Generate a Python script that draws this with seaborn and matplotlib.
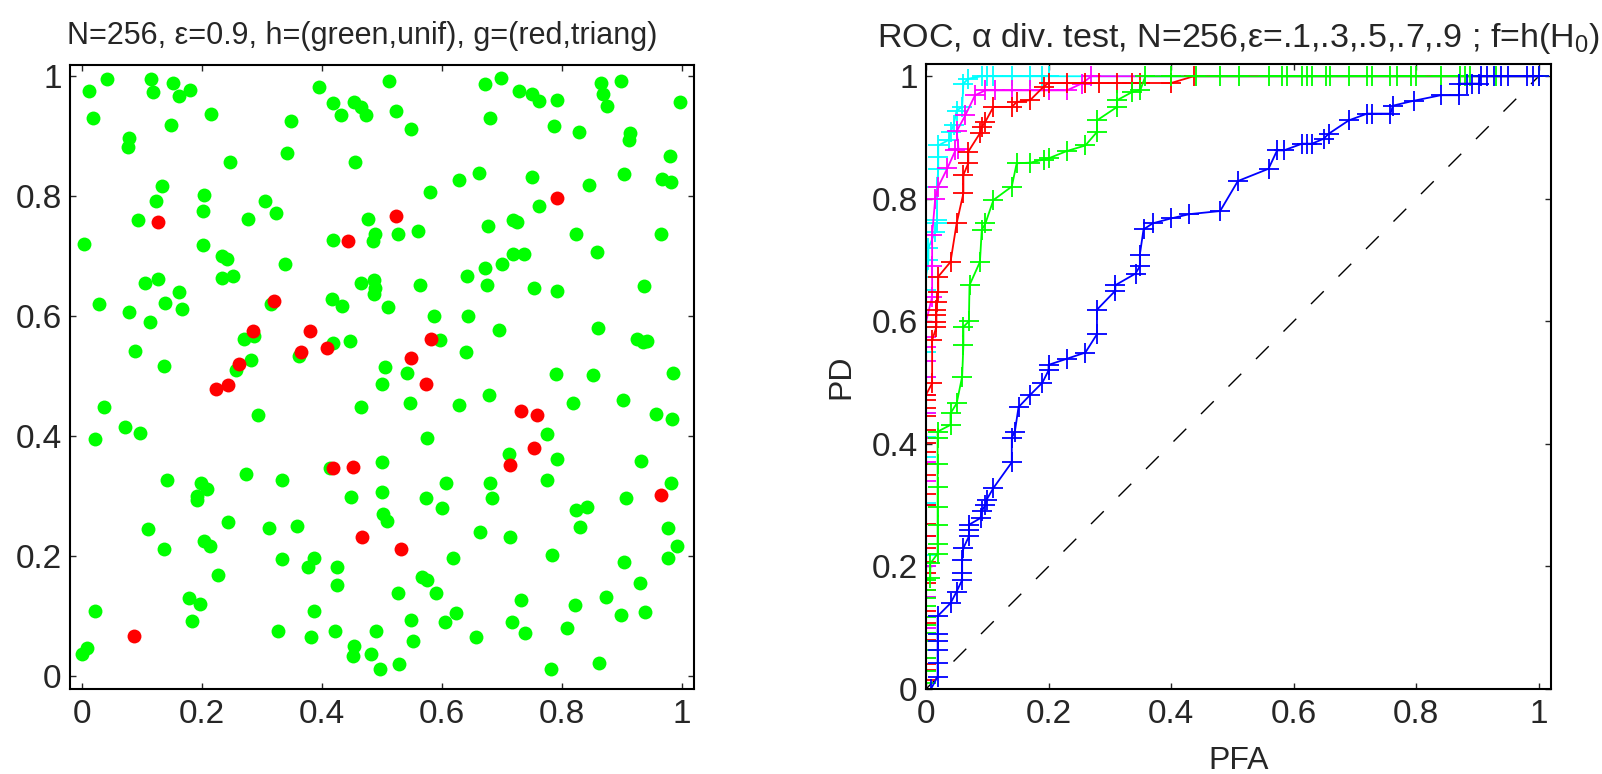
import numpy as np
import pandas as pd
import matplotlib
matplotlib.use("Agg")
import matplotlib.pyplot as plt
import seaborn as sns

# Style: plain white axes, inward ticks on all sides (MATLAB look)
sns.set_theme(style="ticks", rc={
    "xtick.direction": "in", "ytick.direction": "in",
    "xtick.top": True, "ytick.right": True,
    "axes.linewidth": 1.5, "xtick.major.width": 1.0, "ytick.major.width": 1.0,
    "xtick.major.size": 4, "ytick.major.size": 4,
    "axes.edgecolor": "black",
})
plt.rcParams['font.family'] = ['Liberation Sans', 'DejaVu Sans']
plt.rcParams['mathtext.fontset'] = 'custom'
plt.rcParams['mathtext.rm'] = 'Liberation Sans'
plt.rcParams['mathtext.it'] = 'Liberation Sans:italic'

TICK_FS = 24
LABEL_FS = 23

# ---- left panel: sample points (green = unif, red = triang) ----
green_x = [0.012, 0.041, 0.115, 0.119, 0.151, 0.162, 0.180, 0.019, 0.215, 0.149, 0.078, 0.076,
           0.246, 0.341, 0.349, 0.395, 0.419, 0.432, 0.453, 0.465, 0.473, 0.455, 0.133, 0.123,
           0.203, 0.202, 0.094, 0.004, 0.201, 0.305, 0.324, 0.276, 0.419, 0.476, 0.489, 0.485,
           0.233, 0.241, 0.339, 0.233, 0.252, 0.105, 0.126, 0.162, 0.138, 0.028, 0.078, 0.167,
           0.113, 0.465, 0.486, 0.489, 0.486, 0.416, 0.433, 0.315, 0.270, 0.286, 0.281, 0.257,
           0.362, 0.418, 0.447, 0.089, 0.137, 0.505,
           0.512, 0.671, 0.698, 0.728, 0.750, 0.761, 0.792, 0.865, 0.898, 0.869, 0.875, 0.996,
           0.524, 0.549, 0.680, 0.787, 0.829, 0.914, 0.911, 0.980, 0.967, 0.982, 0.904, 0.845,
           0.750, 0.662, 0.629, 0.580, 0.761, 0.718, 0.725, 0.676, 0.823, 0.965, 0.526, 0.560,
           0.858, 0.718, 0.736, 0.700, 0.671, 0.641, 0.675, 0.754, 0.791, 0.936, 0.563, 0.510,
           0.586, 0.643, 0.695, 0.860, 0.925, 0.935, 0.942, 0.597, 0.640, 0.541, 0.790, 0.852,
           0.985,
           0.036, 0.293, 0.071, 0.097, 0.021, 0.465, 0.500, 0.500, 0.500, 0.502, 0.413, 0.448,
           0.274, 0.334, 0.142, 0.199, 0.208, 0.191, 0.192, 0.243, 0.311, 0.358, 0.110, 0.136,
           0.203, 0.213, 0.227, 0.333, 0.386, 0.377, 0.425, 0.425, 0.179, 0.196, 0.184, 0.021,
           0.009, 0.000, 0.386, 0.327, 0.382, 0.421, 0.453, 0.451, 0.482, 0.490, 0.497,
           0.546, 0.628, 0.678, 0.819, 0.901, 0.956, 0.983, 0.775, 0.791, 0.711, 0.575, 0.775,
           0.931, 0.981, 0.906, 0.607, 0.680, 0.684, 0.573, 0.600, 0.508, 0.823, 0.841, 0.830,
           0.977, 0.992, 0.977, 0.663, 0.713, 0.618, 0.784, 0.903, 0.930, 0.566, 0.575, 0.527,
           0.590, 0.732, 0.821, 0.873, 0.899, 0.938, 0.549, 0.605, 0.623, 0.552, 0.656, 0.717,
           0.739, 0.809, 0.529, 0.782, 0.861]
green_y = [0.975, 0.994, 0.995, 0.973, 0.988, 0.967, 0.977, 0.930, 0.936, 0.918, 0.897, 0.882,
           0.856, 0.871, 0.925, 0.982, 0.954, 0.935, 0.956, 0.948, 0.934, 0.856, 0.816, 0.791,
           0.802, 0.774, 0.759, 0.719, 0.718, 0.791, 0.772, 0.761, 0.726, 0.761, 0.736, 0.725,
           0.700, 0.695, 0.686, 0.663, 0.666, 0.654, 0.662, 0.639, 0.622, 0.620, 0.607, 0.611,
           0.589, 0.654, 0.659, 0.646, 0.636, 0.628, 0.616, 0.619, 0.561, 0.566, 0.526, 0.510,
           0.533, 0.554, 0.558, 0.542, 0.516, 0.515,
           0.991, 0.986, 0.997, 0.975, 0.969, 0.958, 0.959, 0.988, 0.991, 0.969, 0.949, 0.956,
           0.941, 0.911, 0.929, 0.917, 0.907, 0.904, 0.893, 0.866, 0.828, 0.823, 0.837, 0.818,
           0.831, 0.838, 0.827, 0.806, 0.783, 0.760, 0.756, 0.749, 0.736, 0.736, 0.737, 0.742,
           0.707, 0.703, 0.703, 0.687, 0.679, 0.666, 0.652, 0.647, 0.641, 0.650, 0.652, 0.614,
           0.599, 0.599, 0.576, 0.579, 0.562, 0.556, 0.558, 0.560, 0.539, 0.504, 0.503, 0.501,
           0.504,
           0.448, 0.434, 0.415, 0.404, 0.394, 0.448, 0.486, 0.357, 0.306, 0.269, 0.346, 0.298,
           0.337, 0.327, 0.326, 0.322, 0.311, 0.299, 0.293, 0.256, 0.246, 0.250, 0.244, 0.212,
           0.224, 0.217, 0.168, 0.195, 0.197, 0.181, 0.181, 0.152, 0.129, 0.119, 0.091, 0.108,
           0.046, 0.036, 0.108, 0.074, 0.064, 0.075, 0.050, 0.033, 0.037, 0.075, 0.011,
           0.455, 0.451, 0.468, 0.455, 0.459, 0.437, 0.428, 0.403, 0.362, 0.370, 0.397, 0.326,
           0.358, 0.322, 0.296, 0.322, 0.321, 0.297, 0.297, 0.279, 0.258, 0.276, 0.282, 0.248,
           0.246, 0.216, 0.197, 0.239, 0.232, 0.196, 0.201, 0.189, 0.155, 0.165, 0.159, 0.138,
           0.138, 0.126, 0.118, 0.131, 0.102, 0.107, 0.093, 0.090, 0.104, 0.058, 0.065, 0.089,
           0.071, 0.079, 0.020, 0.011, 0.022]

red_x = [0.127, 0.443, 0.320, 0.285, 0.262, 0.380, 0.365, 0.408, 0.792, 0.524, 0.582, 0.549,
         0.224, 0.243, 0.418, 0.451, 0.467, 0.086, 0.574, 0.731, 0.759, 0.753, 0.713, 0.965, 0.532]
red_y = [0.756, 0.725, 0.625, 0.574, 0.519, 0.574, 0.540, 0.546, 0.796, 0.766, 0.562, 0.529,
         0.478, 0.484, 0.346, 0.348, 0.231, 0.066, 0.486, 0.442, 0.435, 0.380, 0.352, 0.302, 0.212]

# ---- right panel: ROC curves, one per epsilon ----
pfa_eps1 = [0, 0.008, 0.019, 0.019, 0.019, 0.019, 0.019, 0.019, 0.040, 0.050, 0.059, 0.059, 0.059,
            0.061, 0.070, 0.070, 0.070, 0.089, 0.091, 0.097, 0.099, 0.110, 0.140, 0.140, 0.145,
            0.151, 0.170, 0.190, 0.200, 0.200, 0.230, 0.260, 0.279, 0.279, 0.309, 0.309, 0.342,
            0.349, 0.349, 0.355, 0.370, 0.400, 0.430, 0.480, 0.509, 0.559, 0.573, 0.584, 0.614,
            0.622, 0.630, 0.649, 0.657, 0.690, 0.720, 0.728, 0.758, 0.762, 0.796, 0.840, 0.870,
            0.870, 0.883, 0.891, 0.902, 0.905, 0.916, 0.927, 0.938, 0.950, 0.981, 0.991, 1.0]
pd_eps1 = [0, 0, 0.020, 0.042, 0.064, 0.078, 0.089, 0.119, 0.140, 0.159, 0.178, 0.189, 0.211,
           0.230, 0.249, 0.260, 0.268, 0.279, 0.290, 0.301, 0.309, 0.328, 0.370, 0.410, 0.420,
           0.460, 0.480, 0.500, 0.520, 0.529, 0.539, 0.549, 0.579, 0.619, 0.650, 0.659, 0.678,
           0.690, 0.709, 0.750, 0.760, 0.768, 0.775, 0.780, 0.829, 0.849, 0.879, 0.879, 0.890,
           0.890, 0.890, 0.898, 0.906, 0.928, 0.939, 0.939, 0.939, 0.952, 0.960, 0.969, 0.969,
           0.988, 0.988, 0.988, 0.988, 1.0, 1.0, 1.0, 1.0, 1.0, 1.0, 1.0, 1.0]

pfa_eps3 = [0, 0, 0, 0, 0, 0, 0, 0, 0, 0, 0, 0, 0, 0.007, 0.007, 0.019, 0.019, 0.019, 0.019,
            0.019, 0.019, 0.019, 0.019, 0.040, 0.040, 0.050, 0.059, 0.061, 0.061, 0.070, 0.071,
            0.088, 0.091, 0.097, 0.110, 0.140, 0.148, 0.170, 0.192, 0.200, 0.230, 0.260, 0.279,
            0.279, 0.312, 0.312, 0.336, 0.350, 0.358, 0.400, 0.440, 0.480, 0.510, 0.559, 0.581,
            0.589, 0.614, 0.622, 0.630, 0.652, 0.660, 0.690, 0.720, 0.728, 0.758, 0.769, 0.791,
            0.799, 0.841, 0.872, 0.880, 0.888, 0.930, 1.0]
pd_eps3 = [0, 0.010, 0.029, 0.050, 0.064, 0.078, 0.091, 0.105, 0.118, 0.135, 0.148, 0.162, 0.178,
           0.181, 0.205, 0.221, 0.237, 0.268, 0.297, 0.330, 0.368, 0.409, 0.420, 0.431, 0.450,
           0.466, 0.510, 0.561, 0.591, 0.600, 0.659, 0.697, 0.749, 0.760, 0.798, 0.820, 0.858,
           0.859, 0.864, 0.866, 0.878, 0.887, 0.909, 0.928, 0.950, 0.961, 0.974, 0.978, 1.0,
           1.0, 1.0, 1.0, 1.0, 1.0, 1.0, 1.0, 1.0, 1.0, 1.0, 1.0, 1.0, 1.0, 1.0, 1.0, 1.0, 1.0,
           1.0, 1.0, 1.0, 1.0, 1.0, 1.0, 1.0, 1.0]

pfa_eps5 = [0, 0, 0, 0, 0, 0, 0, 0, 0, 0, 0, 0, 0, 0, 0, 0, 0, 0, 0, 0, 0, 0, 0, 0, 0,
            0.010, 0.010, 0.017, 0.017, 0.017, 0.017, 0.018, 0.020, 0.020, 0.040, 0.050, 0.061,
            0.061, 0.069, 0.069, 0.088, 0.091, 0.097, 0.110, 0.140, 0.148, 0.170, 0.192, 0.200,
            0.230, 0.260, 0.282, 0.312, 0.336, 0.350, 0.400, 0.437, 1.0]
pd_eps5 = [0, 0.015, 0.031, 0.040, 0.080, 0.107, 0.127, 0.162, 0.173, 0.189, 0.208, 0.230, 0.249,
           0.270, 0.300, 0.319, 0.349, 0.368, 0.387, 0.401, 0.423, 0.445, 0.458, 0.472, 0.480,
           0.499, 0.569, 0.591, 0.599, 0.610, 0.618, 0.632, 0.648, 0.673, 0.697, 0.760, 0.809,
           0.839, 0.858, 0.877, 0.907, 0.917, 0.926, 0.950, 0.950, 0.958, 0.961, 0.983, 0.989,
           0.989, 0.989, 0.989, 0.989, 0.989, 0.989, 0.989, 1.0, 1.0]

pfa_eps7 = [0, 0, 0, 0, 0, 0, 0, 0, 0, 0, 0, 0, 0, 0, 0, 0, 0, 0.010, 0.010, 0.010, 0.015,
            0.020, 0.035, 0.048, 0.053, 0.050, 0.064, 0.080, 0.097, 0.113, 0.140, 0.170, 0.200,
            0.230, 0.254, 0.270, 1.0]
pd_eps7 = [0, 0.050, 0.100, 0.150, 0.200, 0.250, 0.300, 0.340, 0.371, 0.410, 0.450, 0.480, 0.509,
           0.535, 0.558, 0.575, 0.599, 0.640, 0.690, 0.741, 0.800, 0.820, 0.850, 0.879, 0.882,
           0.910, 0.936, 0.969, 0.977, 0.977, 0.977, 0.977, 0.977, 0.977, 0.988, 1.0, 1.0]

pfa_eps9 = [0, 0, 0, 0, 0, 0, 0, 0, 0, 0, 0, 0, 0, 0, 0, 0, 0, 0.004, 0.004, 0.015, 0.018,
            0.018, 0.018, 0.020, 0.020, 0.020, 0.037, 0.040, 0.045, 0.050, 0.059, 0.061, 0.069,
            0.091, 0.100, 0.109, 0.140, 0.170, 0.189, 0.200, 1.0]
pd_eps9 = [0, 0.050, 0.100, 0.150, 0.200, 0.219, 0.249, 0.303, 0.379, 0.401, 0.412, 0.450, 0.509,
           0.550, 0.591, 0.651, 0.673, 0.700, 0.720, 0.746, 0.760, 0.765, 0.820, 0.849, 0.869,
           0.887, 0.896, 0.909, 0.920, 0.944, 0.950, 0.988, 0.996, 1.0, 1.0, 1.0, 1.0, 1.0, 1.0,
           1.0, 1.0]

# plotting order: eps .9 first, eps .1 last (on top)
curves = [
    (pfa_eps9, pd_eps9, "#00ffff"),
    (pfa_eps7, pd_eps7, "#ff00ff"),
    (pfa_eps5, pd_eps5, "#ff0000"),
    (pfa_eps3, pd_eps3, "#00ff00"),
    (pfa_eps1, pd_eps1, "#0000ff"),
]

tick_vals = [0, 0.2, 0.4, 0.6, 0.8, 1]
tick_labels = ["0", "0.2", "0.4", "0.6", "0.8", "1"]

fig = plt.figure(figsize=(16.02, 7.74), dpi=100)
ax1 = fig.add_axes([70 / 1602, 1 - 689 / 774, 624 / 1602, 624 / 774])
ax2 = fig.add_axes([926 / 1602, 1 - 689 / 774, 625 / 1602, 625 / 774])

# left: scatter
sns.scatterplot(x=green_x, y=green_y, color="#00ff00", s=100, linewidth=0, ax=ax1, zorder=2)
sns.scatterplot(x=red_x, y=red_y, color="#ff0000", s=100, linewidth=0, ax=ax1, zorder=3)
ax1.set_xlim(-0.02, 1.02)
ax1.set_ylim(-0.022, 1.018)
ax1.set_title("N=256, ε=0.9, h=(green,unif), g=(red,triang)", fontsize=22, pad=15, x=0.468)

# right: ROC
ax2.plot([0, 1], [0, 1], color="black", lw=1.0, dashes=(13, 15), zorder=1)
for pfa, pdv, col in curves:
    sns.lineplot(x=pfa, y=pdv, sort=False, estimator=None, errorbar=None, color=col,
                 marker="+", markersize=15, markeredgewidth=1.3, markeredgecolor=col,
                 linewidth=1.3, ax=ax2, zorder=2)
ax2.set_xlim(0, 1.02)
ax2.set_ylim(0, 1.02)
ax2.set_xlabel("PFA", fontsize=LABEL_FS, labelpad=12)
ax2.set_ylabel("PD", fontsize=LABEL_FS, labelpad=11)
ax2.set_title(r"ROC, α div. test, N=256,ε=.1,.3,.5,.7,.9 ; f=h(H$_0$)", fontsize=24.5, pad=12)

for ax in (ax1, ax2):
    ax.set_xticks(tick_vals)
    ax.set_xticklabels(tick_labels)
    ax.set_yticks(tick_vals)
    ax.set_yticklabels(tick_labels)
    ax.tick_params(labelsize=TICK_FS)
    ax.tick_params(axis="y", pad=6)
    ax.tick_params(axis="x", pad=7)
    for sp in ax.spines.values():
        sp.set_visible(True)
        sp.set_color("black")
    ax.set_facecolor("white")

fig.savefig("out.png", dpi=100, facecolor="white")
